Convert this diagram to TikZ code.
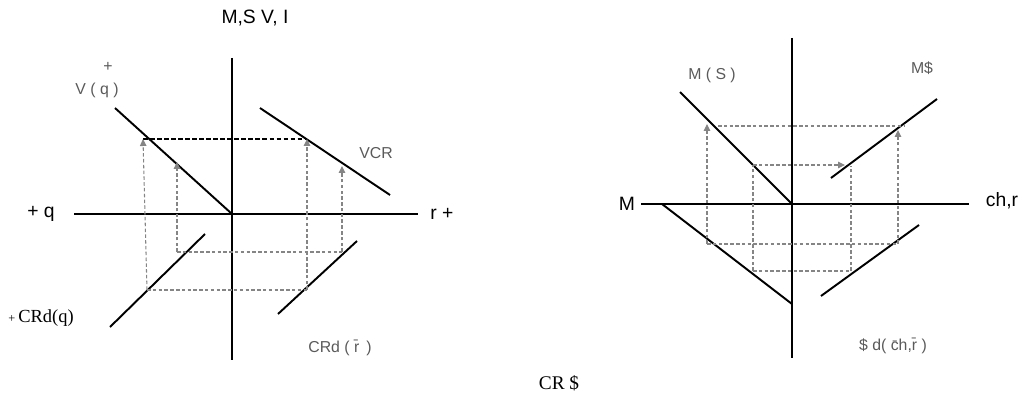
\documentclass[tikz,border=0pt]{standalone}
\usepackage{fontspec}
\setmainfont{Liberation Serif}
\setsansfont{Liberation Sans}
\usepackage{xcolor}
\definecolor{guidegray}{HTML}{858585}
\definecolor{labelgray}{HTML}{5A5A5A}
\usetikzlibrary{arrows.meta}

\begin{document}
\begin{tikzpicture}[
    x=0.02cm, y=-0.02cm,
    axis/.style={line width=1.1pt, black},
    curve/.style={line width=1.1pt, black},
    guide/.style={guidegray, line width=0.6pt, dash pattern=on 2pt off 1.3pt},
    guidearrow/.style={guide, -{Triangle[length=1.4mm, width=1.3mm]}},
    level/.style={black, line width=0.8pt, dash pattern=on 2.6pt off 1.4pt},
    bigtag/.style={font=\sffamily\fontsize{11}{13}\selectfont, inner sep=0pt},
    smalltag/.style={font=\sffamily\fontsize{9}{11}\selectfont, text=labelgray, inner sep=0pt},
    serftag/.style={font=\fontsize{10.5}{12}\selectfont, inner sep=0pt},
]
\useasboundingbox (0,0) rectangle (1025,402);

% Left diagram: axes through the origin lO
\coordinate (lO) at (232,214);
\coordinate (lTop) at (232,58);
\coordinate (lBot) at (232,360);
\coordinate (lLeft) at (74,214);
\coordinate (lRight) at (418,214);
\draw[axis] (lTop) -- (lBot);
\draw[axis] (lLeft) -- (lRight);

% Left diagram: the four schedules
\coordinate (vqA) at (115,108);
\coordinate (vcrA) at (260,108);
\coordinate (vcrB) at (390,195);
\coordinate (crqA) at (110,327);
\coordinate (crqB) at (205,234);
\coordinate (crrA) at (278,314);
\coordinate (crrB) at (357,241);
\draw[curve] (vqA) -- (lO);
\draw[curve] (vcrA) -- (vcrB);
\draw[curve] (crqA) -- (crqB);
\draw[curve] (crrA) -- (crrB);

% Left diagram: projections
\coordinate (lp1) at (147,290);
\coordinate (lp2) at (143,139);
\coordinate (lp3) at (177,252);
\coordinate (lp4) at (177,162);
\coordinate (lp5) at (307,290);
\coordinate (lp6) at (307,139);
\coordinate (lp7) at (342,252);
\coordinate (lp8) at (342,166);
\draw[level] (lp2) -- (lp6);
\draw[guidearrow] (lp1) -- (lp2);
\draw[guidearrow] (lp3) -- (lp4);
\draw[guidearrow] (lp5) -- (lp6);
\draw[guidearrow] (lp7) -- (lp8);
\draw[guide] (lp1) -- (lp5);
\draw[guide] (lp3) -- (lp7);

% Left diagram: labels
\node[bigtag] (msvi) at (255,18) {M,S V, I};
\node[bigtag] (plusq) at (41,214) {+ q};
\node[bigtag] (rplus) at (442,214) {r +};
\node[smalltag] (vq) at (97,90) {V ( q )};
\node[smalltag] (vqplus) at (108,67) {+};
\node[smalltag] (vcr) at (376,153) {VCR};
\node[serftag] (crdq) at (41,318) {{\scriptsize +}\,CRd(q)};
\node[smalltag] (crdr) at (340,348) {CRd ( \=r\, )};

% Right diagram: axes through the origin rO
\coordinate (rO) at (792,204);
\coordinate (rTop) at (792,38);
\coordinate (rBot) at (792,358);
\coordinate (rLeft) at (641,204);
\coordinate (rRight) at (969,204);
\draw[axis] (rTop) -- (rBot);
\draw[axis] (rLeft) -- (rRight);

% Right diagram: the four schedules
\coordinate (msA) at (680,92);
\coordinate (mdA) at (831,178);
\coordinate (mdB) at (937,99);
\coordinate (mlA) at (662,204);
\coordinate (mlB) at (792,304);
\coordinate (sdA) at (821,296);
\coordinate (sdB) at (919,225);
\draw[curve] (msA) -- (rO);
\draw[curve] (mdA) -- (mdB);
\draw[curve] (mlA) -- (mlB);
\draw[curve] (sdA) -- (sdB);

% Right diagram: projections
\coordinate (rp1) at (707,244);
\coordinate (rp2) at (707,124);
\coordinate (rp3) at (898,244);
\coordinate (rp4) at (898,130);
\coordinate (rp5) at (718,126);
\coordinate (rp6) at (905,126);
\coordinate (rp7) at (753,271);
\coordinate (rp8) at (753,165);
\coordinate (rp9) at (845,165);
\coordinate (rp10) at (851,271);
\coordinate (rp11) at (851,166);
\draw[guidearrow] (rp1) -- (rp2);
\draw[guidearrow] (rp3) -- (rp4);
\draw[guide] (rp5) -- (rp6);
\draw[guide] (rp7) -- (rp8);
\draw[guidearrow] (rp8) -- (rp9);
\draw[guide] (rp10) -- (rp11);
\draw[guide] (rp1) -- (rp3);
\draw[guide] (rp7) -- (rp10);

% Right diagram: labels
\node[smalltag] (ms) at (712,75) {M ( S )};
\node[smalltag] (mdollar) at (922,68) {M\$};
\node[bigtag] (mtag) at (627,204) {M};
\node[bigtag] (chr) at (1002,201) {ch,r};
\node[smalltag] (dchr) at (893,346) {\$ d( \=ch,\=r )};

% Caption
\node[serftag, font=\fontsize{11}{13}\selectfont] (crs) at (559,383) {CR \$};

\end{tikzpicture}
\end{document}
